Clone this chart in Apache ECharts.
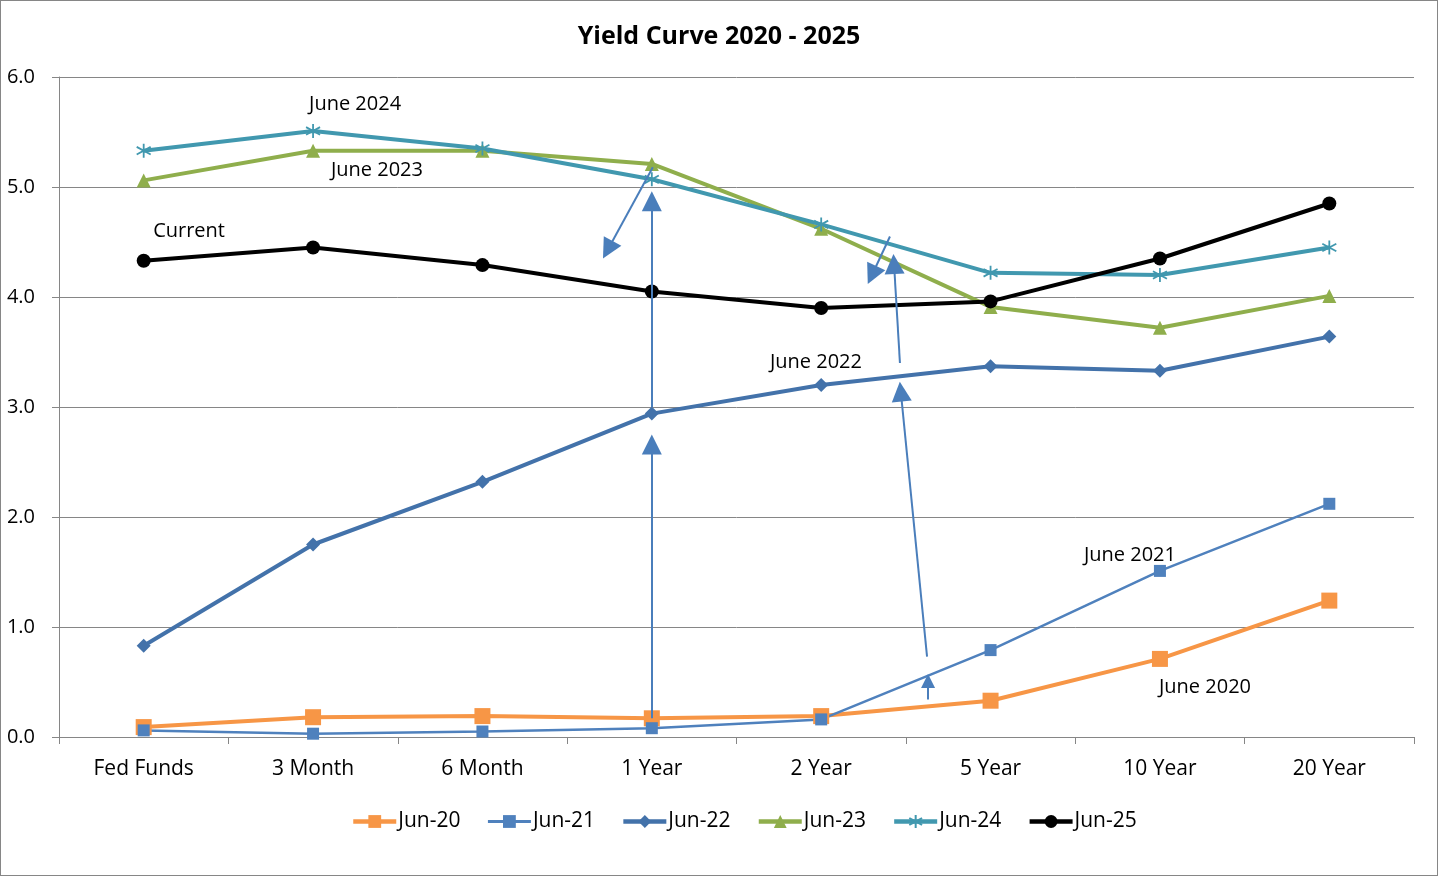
<!DOCTYPE html>
<html>
<head>
<meta charset="utf-8">
<script src="https://cdn.jsdelivr.net/npm/echarts@6/dist/echarts.min.js"></script>
<style>
html,body{margin:0;padding:0;background:#fff;}
#wrap{width:1438px;height:876px;box-sizing:border-box;border:1px solid #868686;position:relative;}
#chart{position:absolute;left:0;top:0;width:1436px;height:874px;}
</style>
</head>
<body>
<div id="wrap"><div id="chart"></div></div>
<script>
const categories = ['Fed Funds','3 Month','6 Month','1 Year','2 Year','5 Year','10 Year','20 Year'];
const seriesNames = ['Jun-20','Jun-21','Jun-22','Jun-23','Jun-24','Jun-25'];
const jun20 = [0.09, 0.18, 0.19, 0.17, 0.19, 0.33, 0.71, 1.24];
const jun21 = [0.06, 0.03, 0.05, 0.08, 0.16, 0.79, 1.51, 2.12];
const jun22 = [0.83, 1.75, 2.32, 2.94, 3.20, 3.37, 3.33, 3.64];
const jun23 = [5.06, 5.33, 5.33, 5.21, 4.62, 3.91, 3.72, 4.01];
const jun24 = [5.33, 5.51, 5.35, 5.07, 4.66, 4.22, 4.20, 4.45];
const jun25 = [4.33, 4.45, 4.29, 4.05, 3.90, 3.96, 4.35, 4.85];
const yTicks = [0,1,2,3,4,5,6];
// annotation arrows: [x1, y1, x2, y2, headSize] in (category index, yield) units
const arrows = [
  [3.0, 0.17, 3.0, 2.66, 20],
  [3.0, 3.00, 3.0, 4.87, 20],
  [3.006, 5.18, 2.74, 4.43, 20],
  [4.631, 0.34, 4.631, 0.51, 14],
  [4.625, 0.73, 4.47, 3.14, 20],
  [4.465, 3.40, 4.43, 4.30, 20],
  [4.406, 4.55, 4.30, 4.20, 20]
];
// annotation labels: [text, category index, yield]
const notes = [
  ['June 2024', 1.248, 5.755],
  ['June 2023', 1.377, 5.155],
  ['Current', 0.268, 4.60],
  ['June 2022', 3.969, 3.409],
  ['June 2021', 5.823, 1.655],
  ['June 2020', 6.266, 0.455]
];

const FONT = '"Open Sans", "Noto Sans", sans-serif';
const ast = 'path://M0,-7L0,7M-6.5,-3.8L6.5,3.8M-6.5,3.8L6.5,-3.8';
const colors = ['#f79646', '#4f81bd', '#4372aa', '#8fae4c', '#4198af', '#000000'];
const widths = [4, 2.5, 4, 4, 4, 4];

function mk(i, data, symbol, size, extra) {
  const color = colors[i];
  return Object.assign({
    name: seriesNames[i], type: 'line', data: data, xAxisIndex: 0, yAxisIndex: 0,
    symbol: symbol, symbolSize: size, showAllSymbol: true,
    lineStyle: {color: color, width: widths[i]},
    itemStyle: {color: color, borderColor: color, borderWidth: 0, opacity: 1},
    emphasis: {disabled: true}, animation: false, z: 3
  }, extra || {});
}

const chart = echarts.init(document.getElementById('chart'), null, {renderer: 'canvas'});
const option = {
  backgroundColor: '#fff',
  animation: false,
  title: {
    text: 'Yield Curve 2020 - 2025', left: 'center', top: 18,
    textStyle: {fontFamily: FONT, fontSize: 25, fontWeight: 'bold', color: '#000'}
  },
  legend: {
    data: seriesNames.map((n, i) => ({name: n, lineStyle: {width: widths[i] + 0.5, color: colors[i]}})),
    bottom: 38, left: 345,
    itemWidth: 43, itemHeight: 16, itemGap: 26,
    textStyle: {fontFamily: FONT, fontSize: 21, color: '#000', padding: [0,0,0,-3]},
    selectedMode: false
  },
  grid: {left: 58, right: 23, top: 76, bottom: 138, containLabel: false},
  xAxis: [{
    type: 'category', data: categories, boundaryGap: true,
    axisLine: {onZero: false, lineStyle: {color: '#868686', width: 1}},
    axisTick: {show: true, length: 7, lineStyle: {color: '#868686'}},
    axisLabel: {fontFamily: FONT, fontSize: 21, color: '#000', margin: 22}
  }, {
    type: 'value', min: -0.5, max: 7.5, show: false
  }],
  yAxis: {
    type: 'value', min: 0, max: 6, interval: 1,
    axisLine: {show: true, onZero: false, lineStyle: {color: '#868686', width: 1}},
    axisTick: {show: true, length: 7, lineStyle: {color: '#868686'}},
    splitLine: {lineStyle: {color: '#868686', width: 1}},
    axisLabel: {fontFamily: FONT, fontSize: 20, color: '#000', margin: 24,
      formatter: v => yTicks.includes(v) ? v.toFixed(1) : ''}
  },
  series: [
    mk(0, jun20, 'rect', 16),
    mk(1, jun21, 'rect', 12),
    mk(2, jun22, 'diamond', 14),
    mk(3, jun23, 'triangle', 14),
    mk(4, jun24, ast, 14, {itemStyle: {color: 'none', borderColor: colors[4], borderWidth: 1.8}}),
    mk(5, jun25, 'circle', 14),
    {
      name: 'arrows', type: 'line', xAxisIndex: 1, yAxisIndex: 0, data: [],
      silent: true, animation: false, z: 5,
      markLine: {
        silent: true, animation: false, symbol: ['none', 'triangle'],
        label: {show: false},
        lineStyle: {color: '#4a7ebb', width: 2, type: 'solid'},
        data: arrows.map(a => [
          {coord: [a[0], a[1]], symbol: 'none'},
          {coord: [a[2], a[3]], symbol: 'triangle', symbolSize: a[4], itemStyle: {color: '#4a7ebb'}}
        ])
      },
      markPoint: {
        silent: true, animation: false, symbol: 'circle', symbolSize: 1,
        itemStyle: {color: 'rgba(0,0,0,0)'},
        label: {show: true, position: 'inside', color: '#000', fontFamily: FONT, fontSize: 20,
          formatter: p => p.name},
        data: notes.map(n => ({name: n[0], coord: [n[1], n[2]]}))
      }
    }
  ]
};
chart.setOption(option);
</script>
</body>
</html>
